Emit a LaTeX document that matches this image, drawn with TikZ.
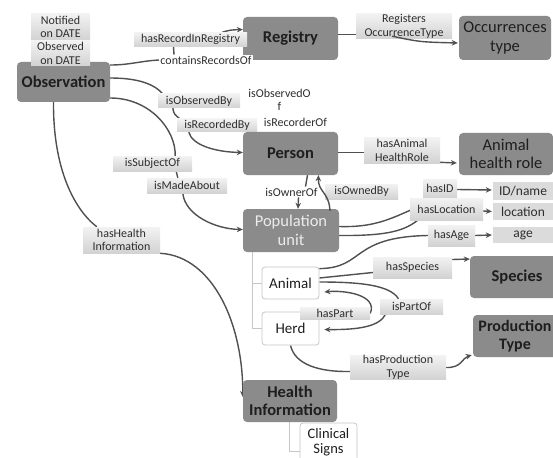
\documentclass[tikz,border=0pt]{standalone}
\usepackage{fontspec}
\setmainfont{Carlito}
\usetikzlibrary{arrows.meta,calc}
\definecolor{boxgray}{HTML}{8B8B8B}
\definecolor{linegray}{HTML}{505050}
\definecolor{txtdark}{HTML}{1E1E1E}
\definecolor{lbltxt}{HTML}{2E2E2E}
\pgfdeclarelayer{background}
\pgfsetlayers{background,main}
\begin{document}
\begin{tikzpicture}[x=1pt,y=-1pt,
  concept/.style={fill=boxgray, rounded corners=4pt, inner sep=0pt, align=center,
    font=\fontsize{16.5}{18}\selectfont\bfseries, text=txtdark},
  conceptR/.style={fill=boxgray, rounded corners=4pt, inner sep=0pt, align=center,
    font=\fontsize{16.5}{18.5}\selectfont, text=txtdark},
  lbl/.style={top color=gray!10, bottom color=gray!35, inner sep=0pt, align=center,
    font=\fontsize{12}{13.5}\selectfont, text=lbltxt},
  wlbl/.style={fill=white, inner sep=1pt, align=center,
    font=\fontsize{12}{13.5}\selectfont, text=lbltxt},
  val/.style={fill=gray!28, inner sep=0pt, font=\fontsize{13.5}{15}\selectfont, text=lbltxt},
  leaf/.style={draw=gray!45, line width=0.8pt, fill=white, rounded corners=3pt, inner sep=0pt,
    align=center, font=\fontsize{15}{16}\selectfont, text=txtdark},
  conn/.style={draw=linegray, line width=1.4pt},
  arr/.style={-{Stealth[length=6pt,width=5.5pt]}},
  tree/.style={draw=gray!45, line width=1pt}]
\useasboundingbox (0,0) rectangle (553,457);
\begin{pgfonlayer}{background}
\fill[white] (0,0) rectangle (553,457);
\end{pgfonlayer}

% concept boxes
\node[concept, minimum width=93pt, minimum height=40pt] (obs) at (63.5,82) {Observation};
\node[lbl, minimum width=59pt, minimum height=26pt] (notif) at (60.5,27) {Notified\\on DATE};
\node[lbl, minimum width=59pt, minimum height=25pt] (obsdate) at (60.5,53.5) {Observed\\on DATE};
\node[concept, minimum width=95pt, minimum height=43pt] (reg) at (290.5,38.5) {Registry};
\node[conceptR, minimum width=92pt, minimum height=44pt] (occ) at (505,38) {Occurrences\\type};
\node[lbl, minimum width=96pt, minimum height=25pt] (regocc) at (404,26.5) {Registers\\OccurrenceType};
\node[lbl, minimum width=113pt, minimum height=14pt] (hasrec) at (190.5,39.5) {hasRecordInRegistry};
\node[wlbl] (contains) at (206,60) {containsRecordsOf};
\node[lbl, minimum width=82pt, minimum height=14pt] (obsby) at (199,101) {isObservedBy};
\node[lbl, minimum width=80pt, minimum height=13pt] (recby) at (217,125.5) {isRecordedBy};
\node[wlbl] (obsof) at (279.5,100) {isObservedO\\f};
\node[wlbl] (recof) at (295.5,122.5) {isRecorderOf};
\node[concept, minimum width=95pt, minimum height=43pt] (person) at (290.5,153.5) {Person};
\node[lbl, minimum width=76pt, minimum height=25pt] (hasahr) at (402,150.5) {hasAnimal\\HealthRole};
\node[conceptR, minimum width=94pt, minimum height=42pt] (ahr) at (506,154) {Animal\\health role};
\node[wlbl] (ownerof) at (291.5,192) {isOwnerOf};
\node[lbl, minimum width=73pt, minimum height=15pt] (ownedby) at (361.5,191.5) {isOwnedBy};
\node[conceptR, text=gray!15, minimum width=96pt, minimum height=43pt] (pop) at (291,230.5) {Population\\unit};
\node[lbl, minimum width=34pt, minimum height=19pt] (hasid) at (440,188.5) {hasID};
\node[val, minimum width=60pt, minimum height=18pt] (idname) at (523,191) {ID/name};
\node[lbl, minimum width=73pt, minimum height=22pt] (hasloc) at (446.5,209) {hasLocation};
\node[val, minimum width=60pt, minimum height=17pt] (loc) at (523,211.5) {location};
\node[lbl, minimum width=47pt, minimum height=21pt] (hasage) at (451.5,235.5) {hasAge};
\node[val, minimum width=60pt, minimum height=16pt] (age) at (523,235) {age};
\node[concept, minimum width=94pt, minimum height=42pt] (species) at (517,277) {Species};
\node[lbl, minimum width=79pt, minimum height=21pt] (hasspec) at (412.5,267.5) {hasSpecies};
\node[leaf, minimum width=57pt, minimum height=32pt] (animal) at (290.5,283) {Animal};
\node[leaf, minimum width=57pt, minimum height=33pt] (herd) at (290.5,328.5) {Herd};
\node[lbl, minimum width=63pt, minimum height=15pt] (partof) at (411.5,306.5) {isPartOf};
\node[lbl, minimum width=70pt, minimum height=12pt] (haspart) at (335,313.5) {hasPart};
\node[concept, font=\fontsize{16}{18}\selectfont\bfseries, minimum width=84pt, minimum height=42pt] (prod) at (515,336) {Production\\Type};
\node[lbl, minimum width=96pt, minimum height=23pt] (hasprod) at (398,367.5) {hasProduction\\Type};
\node[concept, minimum width=94pt, minimum height=42pt] (hi) at (290,401) {Health\\Information};
\node[leaf, font=\fontsize{14.5}{15}\selectfont, minimum width=57pt, minimum height=38pt] (clin) at (328.5,442) {Clinical\\Signs};
\node[lbl, minimum width=79pt, minimum height=15pt] (subj) at (152.5,163.5) {isSubjectOf};
\node[lbl, minimum width=80pt, minimum height=15pt] (madeab) at (187,185.5) {isMadeAbout};
\node[lbl, minimum width=77pt, minimum height=26pt] (hashi) at (121.5,240) {hasHealth\\Information};

\begin{pgfonlayer}{background}
% Observation -> Registry
\draw[conn] ($(obs.east)+(0,-17)$) .. controls (130,65) and (140,61) .. (contains.west);
\draw[conn] ($(hasrec.south)+(-17,0)$) -- ($(contains.north)+(-32,0)$);
\draw[conn,arr] ($(hasrec.north east)+(-25,0)$) .. controls (230,30) .. ($(reg.west)+(0,-9)$);
% Registry -> Occurrences type
\draw[conn] ($(reg.east)+(0,-4)$) -- ($(regocc.west)+(0,8)$);
% Observation -> Person
\draw[conn] ($(obs.east)+(0,-4)$) .. controls (140,78) and (155,85) .. ($(obsby.north west)+(5,0)$);
\draw[conn] ($(obsby.south west)+(15,0)$) .. controls (174,114) .. ($(recby.north west)+(3,0)$);
\draw[conn,arr] ($(recby.south west)+(12,0)$) .. controls (192,145) and (215,152) .. ($(person.west)+(0,-1)$);
% Observation -> Population unit
\draw[conn] ($(obs.east)+(0,16)$) .. controls (150,98) and (176,130) .. ($(subj.north east)+(-17,0)$);
\draw[conn] ($(subj.south east)+(-16,0)$) -- ($(madeab.north west)+(31,0)$);
\draw[conn,arr] ($(madeab.south west)+(36,0)$) .. controls (185,215) and (215,229) .. ($(pop.west)+(0,-1)$);
% Observation -> Health Information
\draw[conn] ($(obs.south)+(-10,0)$) .. controls (53,170) and (75,210) .. ($(hashi.north west)+(14,0)$);
\draw[conn,arr] ($(hashi.south east)+(-5,0)$) .. controls (210,252) and (243,320) .. ($(hi.west)+(0,-4)$);
% Person -> Animal health role
\draw[conn] ($(person.east)+(0,-1)$) -- ($(hasahr.west)+(0,2)$);
\draw[conn,arr] ($(hasahr.east)+(-20,11)$) -- ($(ahr.west)+(-2,9)$);
% Person <-> Population unit
\draw[conn] ($(person.south)+(17,0)$) -- ($(ownerof.north)+(14,0)$);
\draw[conn,arr] ($(ownerof.south)+(7,0)$) -- ($(pop.north)+(7,0)$);
% Population unit -> hasID / hasLocation
\draw[conn] ($(pop.east)+(0,-4)$) .. controls (385,228) and (400,212) .. (hasid.south);
\draw[conn] ($(pop.east)+(0,5)$) .. controls (390,236) and (405,230) .. ($(hasloc.south west)+(8,0)$);
\draw[conn,arr] ($(hasid.east)+(0,1)$) -- ($(idname.west)+(-1,-1)$);
\draw[conn,arr] ($(hasloc.east)+(0,2)$) -- ($(loc.west)+(-1,0)$);
% Animal -> hasAge
\draw[conn] ($(animal.north east)+(0,2)$) .. controls (365,268) and (350,237) .. (hasage.west);
\draw[conn,arr] (hasage.east) -- ($(age.west)+(-1,0)$);
% Animal -> Species
\draw[conn] ($(animal.east)+(0,-5)$) -- ($(hasspec.west)+(0,5)$);
\draw[conn,arr] ($(hasspec.east)+(0,-8)$) -- ($(species.west)+(0,-18)$);
% Animal <-> Herd
\draw[conn] ($(animal.east)+(0,-1)$) .. controls (360,282) and (390,285) .. ($(partof.north)+(-13,0)$);
\draw[conn,arr] ($(partof.south)+(-26,0)$) .. controls (380,326) and (360,330) .. ($(herd.east)+(5,1)$);
\draw[conn,arr] (haspart.east) .. controls (378,295) and (345,290) .. ($(animal.east)+(5,9)$);
% Herd -> Production type
\draw[conn] (herd.south) .. controls (295,365) and (320,372) .. ($(hasprod.west)+(0,4)$);
\draw[conn,arr] (hasprod.east) .. controls (462,368) and (462,358) .. ($(prod.west)+(-1,19)$);
% tree lines
\draw[tree] ($(pop.south)+(-39,0)$) |- (herd.west);
\draw[tree] ($(pop.south)+(-39,0)$) |- (animal.west);
\draw[tree] ($(hi.south)+(-1,0)$) |- ($(clin.west)+(0,9)$);
\end{pgfonlayer}

% connectors drawn over labels
\draw[conn,arr] ($(regocc.south)+(-12,-3)$) .. controls (420,42) .. ($(occ.west)+(-1,5)$);
\draw[conn,arr] ($(pop.north)+(39,2)$) .. controls (329,192) and (318,192) .. ($(person.south)+(28,0)$);
\end{tikzpicture}
\end{document}
